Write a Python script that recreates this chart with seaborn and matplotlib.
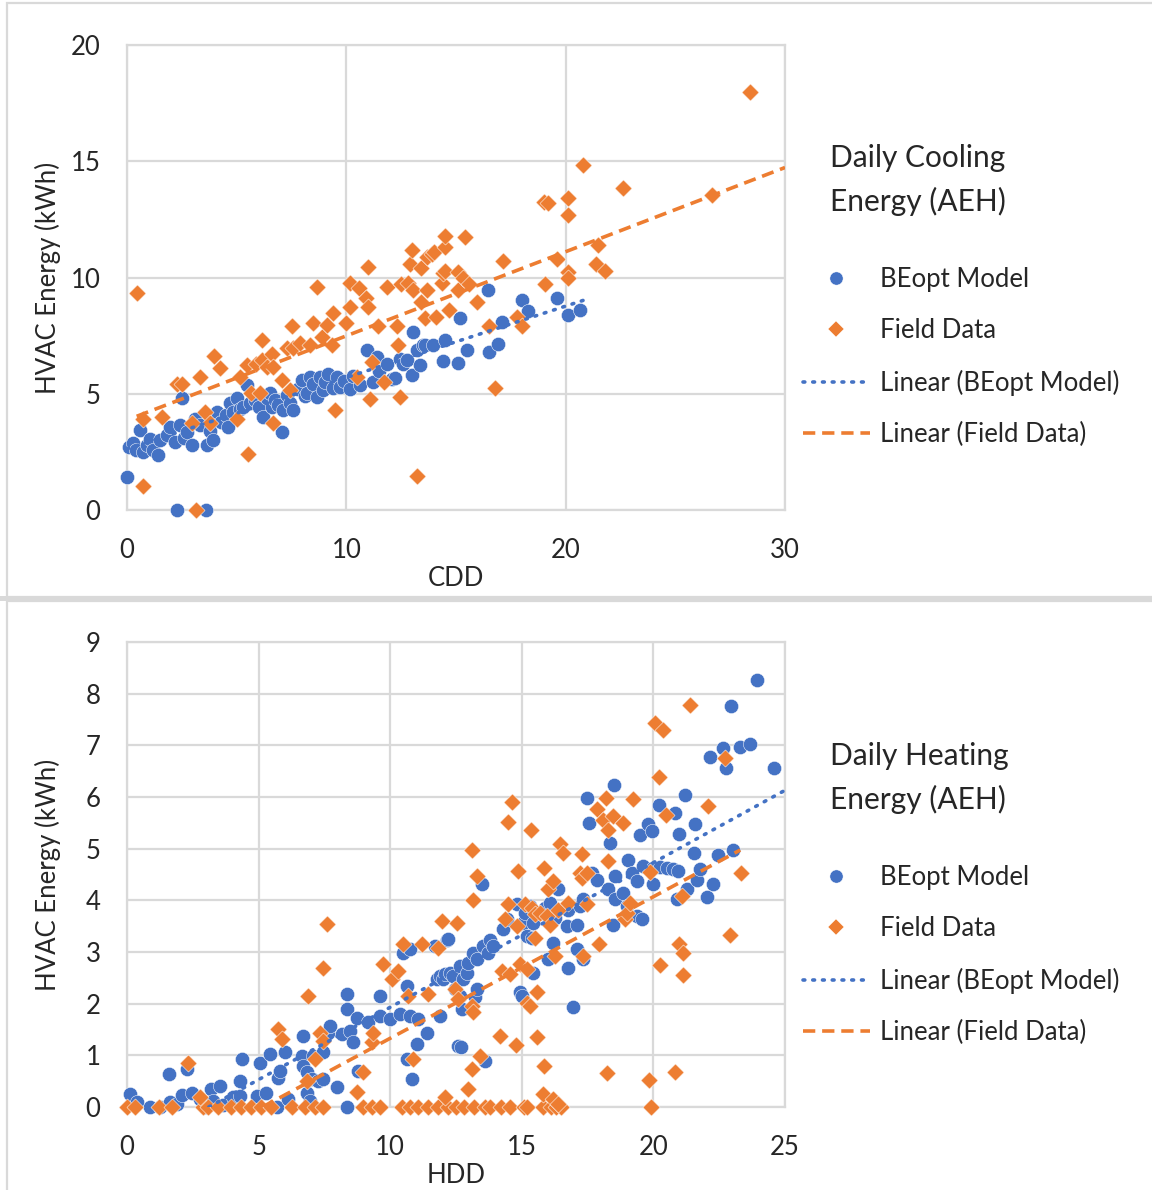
import numpy as np
import pandas as pd
import matplotlib
matplotlib.use("Agg")
import matplotlib.pyplot as plt
from matplotlib.lines import Line2D
from matplotlib.patches import Rectangle
import seaborn as sns

# ---------------- data ----------------
# Cooling: BEopt model (CDD, kWh)
cool_model_cdd = [0.0, 0.11, 0.29, 0.4, 0.6, 0.74, 0.9, 1.05, 1.2, 1.42, 1.5, 1.81, 1.95, 2.19, 2.27,
                  2.42, 2.5, 2.6, 2.72, 2.95, 3.1, 3.33, 3.6, 3.63, 3.8, 3.94, 4.09, 4.3, 4.5, 4.62,
                  4.7, 4.85, 5.0, 5.15, 5.3, 5.46, 5.6, 5.84, 6.0, 6.22, 6.37, 6.5, 6.6, 6.75, 6.9,
                  7.05, 7.13, 7.3, 7.45, 7.58, 7.8, 7.97, 8.1, 8.2, 8.35, 8.5, 8.65, 8.8, 8.95, 9.05,
                  9.18, 9.41, 9.56, 9.71, 9.9, 10.17, 10.3, 10.62, 10.93, 11.23, 11.38, 11.5, 11.84,
                  12.1, 12.2, 12.45, 12.6, 12.76, 12.98, 13.05, 13.2, 13.35, 13.5, 13.6, 13.95, 14.4,
                  14.5, 15.1, 15.2, 15.5, 16.45, 16.5, 16.9, 17.1, 18.0, 18.3, 19.6, 20.1, 20.65]
cool_model_kwh = [1.42, 2.7, 2.87, 2.6, 3.44, 2.49, 2.8, 3.05, 2.58, 2.37, 3.0, 3.22, 3.55, 2.92, 0.0,
                  3.66, 4.8, 3.1, 3.35, 2.78, 3.9, 3.65, 0.0, 2.78, 3.4, 3.0, 4.23, 3.8, 4.1, 3.58,
                  4.6, 4.2, 4.8, 4.35, 4.44, 5.38, 4.6, 4.73, 4.45, 4.01, 4.8, 5.05, 4.44, 4.75, 4.5,
                  3.37, 4.3, 4.95, 4.6, 4.3, 5.2, 5.59, 4.9, 5.02, 5.73, 5.4, 4.87, 5.73, 5.16, 5.5,
                  5.87, 5.23, 5.73, 5.3, 5.55, 5.22, 5.75, 5.36, 6.88, 5.5, 6.6, 6.0, 6.3,
                  5.65, 5.67, 6.5, 6.3, 6.45, 5.8, 7.67, 6.88, 6.22, 7.08, 7.1, 7.1, 6.4,
                  7.3, 6.32, 8.27, 6.9, 9.46, 6.8, 7.14, 8.1, 9.03, 8.57, 9.13, 8.4, 8.6]

# Cooling: field data (CDD, kWh)
cool_field_cdd = [0.44, 0.74, 0.74, 1.58, 2.27, 2.5, 2.95, 3.15, 3.33, 3.56, 3.78, 3.97, 4.24, 5.0,
                  5.15, 5.46, 5.5, 5.64, 5.9, 6.06, 6.14, 6.17, 6.37, 6.6, 6.67, 6.67, 7.05, 7.28,
                  7.43, 7.5, 7.58, 7.9, 8.35, 8.5, 8.65, 8.87, 9.1, 9.33, 9.4, 9.48, 10.0, 10.17,
                  10.17, 10.47, 10.6, 10.9, 11.0, 11.0, 11.1, 11.16, 11.45, 11.7, 11.84, 12.3,
                  12.37, 12.45, 12.5, 12.8, 12.9, 13.0, 13.05, 13.2, 13.4, 13.4, 13.6, 13.67, 13.7,
                  13.9, 14.0, 14.1, 14.35, 14.4, 14.5, 14.5, 14.5, 14.7, 15.1, 15.1, 15.3, 15.4,
                  15.6, 15.95, 16.5, 16.8, 17.16, 17.8, 18.0, 19.0, 19.06, 19.2, 19.6, 20.1, 20.1,
                  20.1, 20.1, 20.8, 21.4, 21.46, 21.8, 22.6, 26.66, 28.4]
cool_field_kwh = [9.32, 1.05, 3.9, 4.0, 5.42, 5.42, 3.73, 0.0, 5.7, 4.23, 3.76, 6.64, 6.09, 3.9,
                  5.73, 6.24, 2.4, 5.02, 6.3, 5.02, 6.45, 7.3, 6.16, 6.7, 6.16, 3.73, 5.6, 6.95,
                  5.16, 7.9, 6.95, 7.17, 7.1, 8.03, 9.58, 7.46, 7.96, 7.1, 8.46, 4.3, 8.03, 9.75,
                  8.74, 5.73, 9.53, 9.1, 8.74, 10.46, 4.76, 6.38, 7.9, 5.52, 9.6, 7.9,
                  7.1, 4.87, 9.7, 9.78, 10.6, 11.2, 9.46, 1.46, 8.96, 10.4, 8.24, 10.9, 9.46,
                  11.0, 11.1, 8.3, 9.75, 10.2, 10.3, 11.3, 11.8, 8.6, 9.46, 10.25, 10.0, 11.75,
                  9.7, 8.96, 7.9, 5.26, 10.7, 8.3, 7.9, 13.26, 9.72, 13.19, 10.8, 13.43, 12.68,
                  10.25, 10.0, 14.84, 10.6, 11.4, 10.3, 13.86, 13.55, 17.97]

# Heating: BEopt model (HDD, kWh)
heat_model_hdd = [0.11, 0.37, 0.87, 1.25, 1.6, 1.63, 1.89, 2.08, 2.27, 2.46, 2.77, 2.96, 3.2, 3.28,
                  3.53, 3.66, 4.04, 4.29, 4.29, 4.36, 4.93, 5.05, 5.3, 5.43, 5.69, 5.75, 5.81, 6.0,
                  6.13, 6.64, 6.7, 6.7, 6.83, 6.83, 6.95, 7.02, 7.08, 7.27, 7.46, 7.46, 7.65, 7.71,
                  7.97, 8.16, 8.35, 8.35, 8.35, 8.47, 8.6, 8.73, 8.79, 9.17, 9.61, 9.61, 9.99, 10.37,
                  10.5, 10.63, 10.63, 10.75, 10.75, 10.82, 11.0, 11.07, 11.39, 11.7, 11.77, 11.89,
                  11.89, 12.02, 12.08, 12.15, 12.2, 12.27, 12.4, 12.46, 12.59, 12.65, 12.65, 12.69,
                  12.71, 12.78, 12.9, 12.97, 13.16, 13.22, 13.29, 13.29, 13.48, 13.54, 13.6, 13.73,
                  13.79, 13.92, 14.3, 14.43, 14.81, 14.93, 15.0, 15.06, 15.12, 15.19, 15.31, 15.38,
                  15.44, 15.44, 15.69, 15.88, 16.0, 16.07, 16.2, 16.26, 16.39, 16.71, 16.77, 16.77,
                  16.96, 17.09, 17.09, 17.21, 17.34, 17.34, 17.47, 17.55, 17.66, 17.85, 18.29, 18.35,
                  18.48, 18.5, 18.54, 18.54, 18.86, 18.99, 19.05, 19.17, 19.37, 19.37, 19.49, 19.58,
                  19.62, 19.78, 19.93, 20.0, 20.0, 20.2, 20.25, 20.5, 20.76, 20.82, 20.88, 20.95,
                  20.98, 21.2, 21.27, 21.54, 21.58, 21.65, 21.77, 22.03, 22.15, 22.28, 22.47, 22.66,
                  22.75, 22.95, 23.04, 23.29, 23.67, 23.92, 24.6]
heat_model_kwh = [0.25, 0.09, 0.0, 0.0, 0.64, 0.1, 0.06, 0.23, 0.73, 0.28, 0.15, 0.0, 0.35, 0.12,
                  0.41, 0.03, 0.19, 0.22, 0.5, 0.93, 0.22, 0.86, 0.28, 1.02, 0.0, 0.57, 0.7, 1.07,
                  0.15, 0.99, 0.8, 1.38, 0.67, 0.28, 0.12, 0.54, 0.99, 0.51, 1.06, 0.54, 1.44, 1.57,
                  0.38, 1.41, 0.0, 1.89, 2.18, 1.47, 1.25, 1.73, 0.7, 1.64, 1.76, 2.15, 1.7, 1.8,
                  2.99, 2.34, 0.93, 1.76, 3.05, 0.54, 1.22, 1.7, 1.44, 3.11, 2.47, 1.76,
                  2.54, 2.47, 2.57, 3.24, 3.26, 2.6, 2.54, 2.28, 1.18, 2.15, 2.73, 1.17,
                  1.89, 2.47, 2.6, 2.79, 2.99, 2.12, 2.28, 2.86, 4.31, 3.11, 0.89, 2.99,
                  3.24, 3.11, 3.44, 3.63, 3.92, 2.22, 2.15, 3.57, 3.76, 3.31, 3.89, 3.28,
                  3.57, 2.6, 3.76, 3.86, 2.86, 3.95, 3.18, 3.66, 4.21, 3.5, 3.82, 2.7,
                  1.94, 3.53, 3.05, 3.89, 4.02, 2.86, 5.98, 5.5, 4.53, 4.4, 4.21, 5.11,
                  3.53, 6.24, 4.02, 4.47, 4.15, 3.89, 4.79, 4.53, 4.37, 3.69, 5.26, 3.63,
                  4.67, 5.48, 5.34, 4.63, 4.31, 5.85, 4.65, 4.63, 4.6, 5.7, 4.03, 4.56,
                  5.29, 6.03, 4.21, 4.92, 5.47, 4.4, 4.61, 4.07, 6.78, 4.31, 4.87, 6.95,
                  6.56, 7.77, 4.98, 6.97, 7.03, 8.27, 6.56]

# Heating: field data (HDD, kWh)
heat_field_hdd = [0.0, 0.3, 1.2, 1.7, 2.9, 3.09, 3.47, 3.97, 4.35, 4.73, 5.11, 5.49, 6.25, 6.76,
                  7.14, 7.46, 8.98, 9.3, 9.6, 10.43, 10.75, 11.07, 11.45, 11.83, 12.2, 12.5, 12.8,
                  13.2, 13.6, 13.8, 14.2, 14.55, 15.1, 15.2, 15.8, 16.1, 16.3, 16.5, 19.9,
                  2.33, 2.77, 5.75, 5.88, 6.83, 6.89, 7.14, 7.33, 7.46, 7.46, 7.61, 8.73, 8.98,
                  9.3, 9.36, 9.74, 10.06, 10.31, 10.5, 10.69, 10.88, 11.2, 11.45, 11.83, 11.96,
                  12.08, 12.46, 12.53, 12.59, 12.97, 13.1, 13.1, 13.12, 13.16, 13.16, 13.29, 13.41,
                  14.17, 14.24, 14.36, 14.46, 14.49, 14.55, 14.62, 14.78, 14.81, 14.87, 14.93,
                  15.12, 15.19, 15.19, 15.31, 15.34, 15.38, 15.5, 15.5, 15.57, 15.57, 15.69, 15.82,
                  15.84, 15.84, 15.95, 16.0, 16.07, 16.2, 16.2, 16.26, 16.39, 16.39, 16.45, 16.58,
                  16.77, 17.21, 17.28, 17.28, 17.34, 17.47, 17.47, 17.85, 17.95, 18.1, 18.19, 18.23,
                  18.29, 18.29, 18.48, 18.86, 18.92, 18.99, 19.11, 19.21, 19.83, 19.87, 20.06,
                  20.21, 20.25, 20.38, 20.48, 20.82, 20.98, 21.08, 21.14, 21.14, 21.39, 22.09,
                  22.72, 22.91, 23.33]
heat_field_kwh = [0.0, 0.0, 0.0, 0.0, 0.0, 0.0, 0.0, 0.0, 0.0, 0.0, 0.0, 0.0, 0.0, 0.0,
                  0.0, 0.0, 0.0, 0.0, 0.0, 0.0, 0.0, 0.0, 0.0, 0.0, 0.0, 0.0, 0.0,
                  0.0, 0.0, 0.0, 0.0, 0.0, 0.0, 0.0, 0.0, 0.0, 0.0, 0.0, 0.0,
                  0.86, 0.19, 1.51, 1.31, 0.51, 2.15, 0.93, 1.44, 1.28, 2.7, 3.55, 0.3, 0.67,
                  1.25, 1.44, 2.76, 2.47, 2.63, 3.15, 2.15, 0.93, 3.15, 2.18, 3.08, 3.6,
                  0.19, 2.28, 3.57, 2.09, 0.35, 0.73, 1.96, 4.98, 1.83, 4.0, 4.47, 0.99,
                  1.38, 2.63, 3.63, 3.93, 5.52, 2.57, 5.9, 1.2, 3.5, 4.56, 2.76,
                  3.92, 2.67, 2.02, 1.96, 5.37, 3.86, 3.28, 3.73, 2.22, 1.35, 3.76, 0.25,
                  4.63, 0.79, 3.69, 4.21, 3.53, 4.37, 0.15, 2.92, 3.82, 0.06, 5.1, 4.92,
                  3.95, 4.53, 4.89, 4.44, 2.92, 4.53, 3.92, 5.76, 3.15, 5.56, 5.98, 0.65,
                  5.37, 4.76, 5.63, 5.5, 3.63, 3.76, 3.95, 5.96, 0.53, 4.54, 7.43,
                  6.39, 2.74, 7.3, 5.66, 0.68, 3.15, 4.08, 2.99, 2.55, 7.78, 5.82,
                  6.75, 3.32, 4.53]

# Linear trend lines: (intercept, slope, x_start, x_end)
cool_model_trend = (2.63, 0.307, 0.0, 20.9)
cool_field_trend = (3.87, 0.362, 0.44, 30.0)
heat_model_trend = (-0.87, 0.28, 3.11, 25.0)
heat_field_trend = (-1.41, 0.274, 5.15, 23.3)

cool_xticks = [0, 10, 20, 30]
cool_yticks = [0, 5, 10, 15, 20]
heat_xticks = [0, 5, 10, 15, 20, 25]
heat_yticks = [0, 1, 2, 3, 4, 5, 6, 7, 8, 9]

series_labels = ["BEopt Model", "Field Data", "Linear (BEopt Model)", "Linear (Field Data)"]

# ---------------- style ----------------
BLUE = "#4472C4"
ORANGE = "#ED7D31"
GRID = "#D9D9D9"
TEXT = "#262626"
FS = 18.5

sns.set_style("white")
plt.rcParams["font.family"] = ["Lato", "DejaVu Sans"]

W, H = 1152, 1190
fig = plt.figure(figsize=(W / 100, H / 100), dpi=100)


def fx(px):
    return px / W


def fy(py):
    return 1 - py / H


# panel frames
fig.patches.append(Rectangle((fx(7), fy(597)), fx(1160) - fx(7), fy(3) - fy(597),
                             transform=fig.transFigure, fill=False, edgecolor=GRID, lw=1.6))
fig.patches.append(Rectangle((fx(7), fy(1195)), fx(1160) - fx(7), fy(601) - fy(1195),
                             transform=fig.transFigure, fill=False, edgecolor=GRID, lw=1.6))
fig.patches.append(Rectangle((0, fy(601)), 1, fy(596) - fy(601),
                             transform=fig.transFigure, facecolor=GRID, edgecolor="none"))


def panel(top_px, xdata_m, ydata_m, xdata_f, ydata_f, trend_m, trend_f,
          xlim, ylim, xticks, yticks, xlabel, title, legend_top_px, title_y_px):
    left, right, bottom = 127, 785, top_px + 465
    ax = fig.add_axes([fx(left), fy(bottom), fx(right) - fx(left), fy(top_px) - fy(bottom)])
    dm = pd.DataFrame({"x": xdata_m, "y": ydata_m})
    df = pd.DataFrame({"x": xdata_f, "y": ydata_f})
    sns.scatterplot(data=dm, x="x", y="y", ax=ax, color=BLUE, marker="o", s=105,
                    edgecolor="white", linewidth=0.35, zorder=3, clip_on=False)
    sns.scatterplot(data=df, x="x", y="y", ax=ax, color=ORANGE, marker="D", s=76,
                    edgecolor="white", linewidth=0.35, zorder=4, clip_on=False)
    a, b, x0, x1 = trend_m
    xs = np.array([x0, x1])
    ax.plot(xs, a + b * xs, color=BLUE, lw=2.6, ls=(0, (0.5, 2.2)),
            dash_capstyle="round", zorder=5)
    a, b, x0, x1 = trend_f
    xs = np.array([x0, x1])
    ax.plot(xs, a + b * xs, color=ORANGE, lw=2.6, ls=(0, (3.4, 1.9)), zorder=5)

    ax.set_xlim(*xlim)
    ax.set_ylim(*ylim)
    ax.set_xticks(xticks)
    ax.set_yticks(yticks)
    ax.grid(True, color=GRID, lw=1.6)
    ax.set_axisbelow(True)
    for sp in ax.spines.values():
        sp.set_visible(True)
        sp.set_color(GRID)
        sp.set_linewidth(1.6)
    ax.tick_params(length=0, labelsize=FS, labelcolor=TEXT)
    ax.tick_params(axis="x", pad=20)
    ax.tick_params(axis="y", pad=19)
    ax.set_xlabel(xlabel, fontsize=FS, color=TEXT)
    ax.set_ylabel("HVAC Energy (kWh)", fontsize=FS, color=TEXT)
    ax.xaxis.set_label_coords(0.5, -0.12)
    ax.yaxis.set_label_coords(-0.1, 0.5)

    handles = [
        Line2D([], [], color=BLUE, marker="o", ls="none", markersize=9.5,
               markeredgecolor="white", markeredgewidth=0.3),
        Line2D([], [], color=ORANGE, marker="D", ls="none", markersize=8,
               markeredgecolor="white", markeredgewidth=0.3),
        Line2D([], [], color=BLUE, lw=2.6, ls=(0, (0.5, 2.2)), dash_capstyle="round"),
        Line2D([], [], color=ORANGE, lw=2.6, ls=(0, (3.4, 1.9))),
    ]
    ax.legend(handles, series_labels, loc="upper left",
              bbox_to_anchor=(fx(803), fy(legend_top_px)), bbox_transform=fig.transFigure,
              frameon=False, fontsize=FS, handlelength=2.6, handletextpad=0.4,
              labelspacing=1.02, borderpad=0, borderaxespad=0, labelcolor=TEXT)
    fig.text(fx(830), fy(title_y_px), title, fontsize=21.5, color=TEXT,
             va="center", ha="left", linespacing=1.6)
    return ax


panel(45, cool_model_cdd, cool_model_kwh, cool_field_cdd, cool_field_kwh,
      cool_model_trend, cool_field_trend, (0, 30), (0, 20), cool_xticks, cool_yticks,
      "CDD", "Daily Cooling\nEnergy (AEH)", 267, 180)
panel(642, heat_model_hdd, heat_model_kwh, heat_field_hdd, heat_field_kwh,
      heat_model_trend, heat_field_trend, (0, 25), (0, 9), heat_xticks, heat_yticks,
      "HDD", "Daily Heating\nEnergy (AEH)", 865, 778)

fig.savefig("out.png", dpi=100)
